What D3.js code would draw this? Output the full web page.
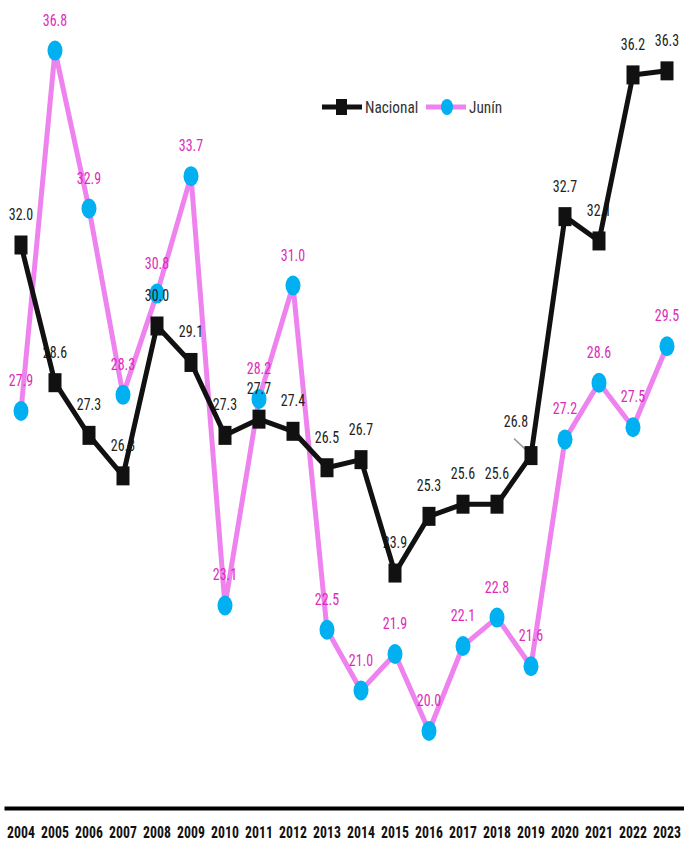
<!DOCTYPE html>
<html>
<head>
<meta charset="utf-8">
<script src="https://cdn.jsdelivr.net/npm/d3@7"></script>
<style>
  html, body { margin: 0; padding: 0; background: #fff; }
  svg { display: block; }
  text { font-family: "Liberation Sans Narrow", "Roboto Condensed", "DejaVu Sans Condensed", "Open Sans", sans-serif; }
</style>
</head>
<body>
<svg id="chart" width="684" height="842"></svg>
<script>
const years = ["2004","2005","2006","2007","2008","2009","2010","2011","2012","2013","2014","2015","2016","2017","2018","2019","2020","2021","2022","2023"];
const nacional = [32.0, 28.6, 27.3, 26.3, 30.0, 29.1, 27.3, 27.7, 27.4, 26.5, 26.7, 23.9, 25.3, 25.6, 25.6, 26.8, 32.7, 32.1, 36.2, 36.3];
const junin = [27.9, 36.8, 32.9, 28.3, 30.8, 33.7, 23.1, 28.2, 31.0, 22.5, 21.0, 21.9, 20.0, 22.1, 22.8, 21.6, 27.2, 28.6, 27.5, 29.5];
const seriesNames = ["Nacional", "Junín"];

const svg = d3.select("#chart");
const x = d3.scaleBand().domain(years).range([4, 684]).padding(0);
const cx = d => x(d) + x.bandwidth() / 2;
const y = d3.scaleLinear().domain([18, 38]).range([812, 2]);

const nacColor = "#111111", nacLabel = "#222222";
const junLine = "#EE82EE", junMarker = "#00B0F0", junLabel = "#DD2BB9";
const SX = 0.82;

// axis
const axis = svg.append("g").attr("transform", "translate(0,808)")
  .call(d3.axisBottom(x).tickSize(0).tickSizeOuter(0).tickPadding(19));
axis.select(".domain").attr("stroke", "#000").attr("stroke-width", 4);
axis.selectAll(".tick text").attr("font-size", 16).attr("fill", "#111").attr("font-weight", "bold")
  .attr("transform", "scale(0.86,1)")
  .each(function() { const t = d3.select(this); });
// adjust tick text positioning since scale is applied relative to the tick group origin (x=0)
axis.selectAll(".tick text").attr("x", 0);

const nacData = years.map((yr, i) => ({yr, v: nacional[i]}));
const junData = years.map((yr, i) => ({yr, v: junin[i]}));
const line = d3.line().x(d => cx(d.yr)).y(d => y(d.v));

function label(g, data, color, dx, dy) {
  g.selectAll("text").data(data).join("text")
    .attr("transform", d => `translate(${cx(d.yr) + dx(d)},${y(d.v) + dy(d)}) scale(${SX},1)`)
    .attr("text-anchor", "middle").attr("font-size", 17).attr("fill", color)
    .text(d => d.v.toFixed(1));
}

// Junín line and markers
svg.append("path").datum(junData).attr("d", line)
  .attr("fill", "none").attr("stroke", junLine).attr("stroke-width", 5).attr("stroke-linejoin", "round");
svg.append("g").selectAll("ellipse").data(junData).join("ellipse")
  .attr("cx", d => cx(d.yr)).attr("cy", d => y(d.v)).attr("rx", 7.5).attr("ry", 10)
  .attr("fill", junMarker);

// Nacional labels
label(svg.append("g"), nacData, nacLabel,
  d => d.yr === "2019" ? -15 : 0,
  d => d.yr === "2019" ? -29 : -25);
// leader line for 2019
const ld = nacData[15];
svg.append("line").attr("x1", cx(ld.yr) - 17).attr("y1", y(ld.v) - 17)
  .attr("x2", cx(ld.yr) - 2).attr("y2", y(ld.v) - 3)
  .attr("stroke", "#999").attr("stroke-width", 1.5);

// Nacional line and markers
svg.append("path").datum(nacData).attr("d", line)
  .attr("fill", "none").attr("stroke", nacColor).attr("stroke-width", 5).attr("stroke-linejoin", "round");
svg.append("g").selectAll("rect").data(nacData).join("rect")
  .attr("x", d => cx(d.yr) - 6.5).attr("y", d => y(d.v) - 9.5).attr("width", 13).attr("height", 19)
  .attr("fill", nacColor);

// Junín labels
label(svg.append("g"), junData, junLabel, d => 0, d => -25);

// legend
const lg = svg.append("g").attr("transform", "translate(0,107)");
lg.append("line").attr("x1", 322).attr("x2", 362).attr("y1", 0).attr("y2", 0).attr("stroke", nacColor).attr("stroke-width", 5);
lg.append("rect").attr("x", 336).attr("y", -8).attr("width", 11).attr("height", 16).attr("fill", nacColor);
lg.append("text").attr("transform", "translate(365,6) scale(0.9,1)").attr("font-size", 17).attr("fill", "#333").text(seriesNames[0]);
lg.append("line").attr("x1", 426).attr("x2", 466).attr("y1", 0).attr("y2", 0).attr("stroke", junLine).attr("stroke-width", 5);
lg.append("ellipse").attr("cx", 447).attr("cy", 0).attr("rx", 6).attr("ry", 8).attr("fill", junMarker);
lg.append("text").attr("transform", "translate(469,6) scale(0.9,1)").attr("font-size", 17).attr("fill", "#333").text(seriesNames[1]);
</script>
</body>
</html>
